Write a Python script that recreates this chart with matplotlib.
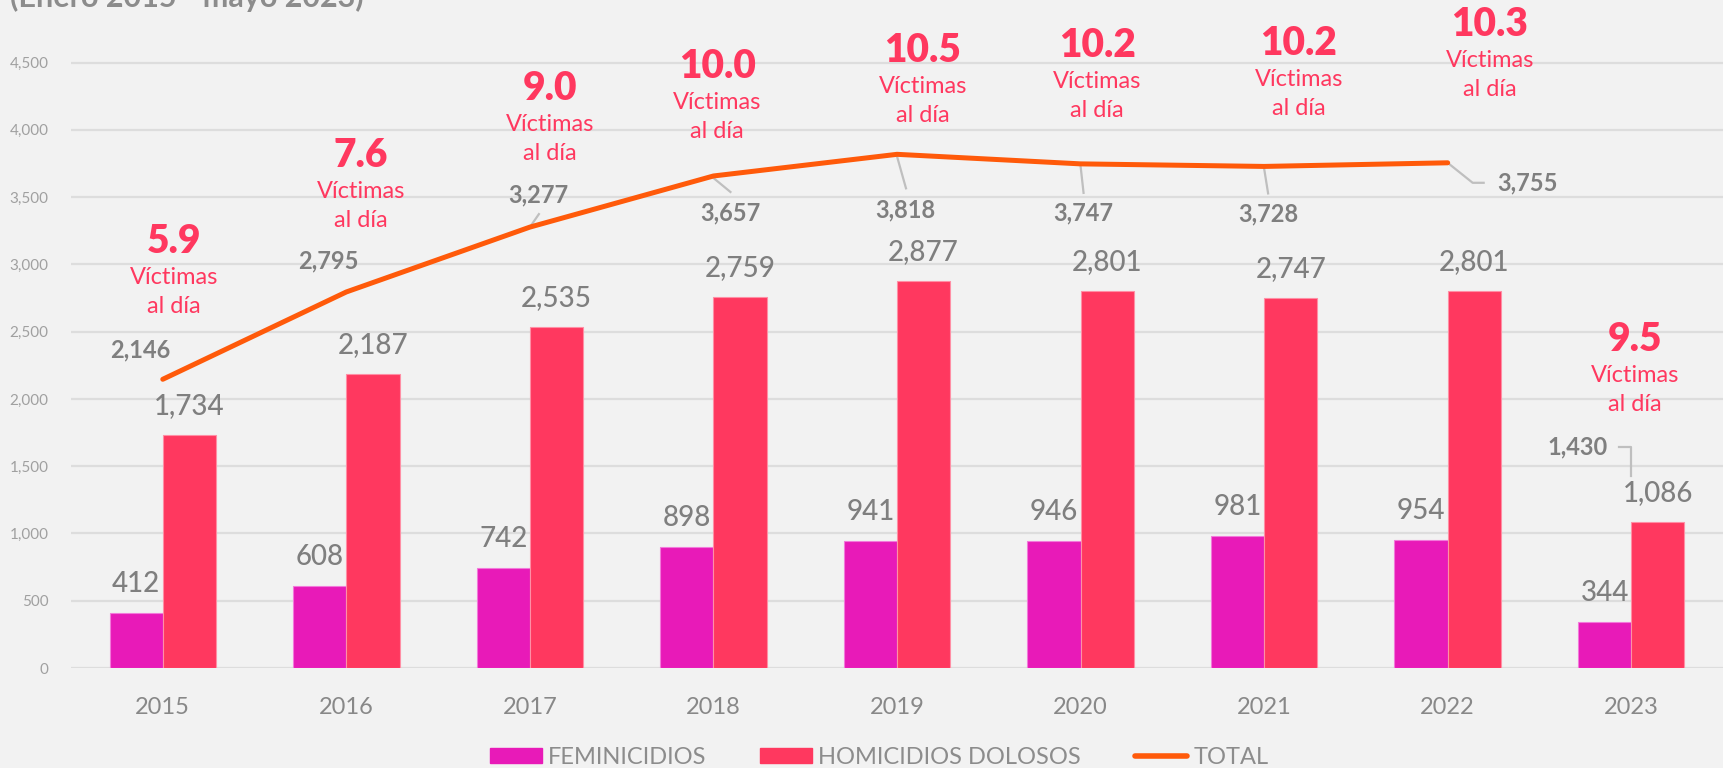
import matplotlib
matplotlib.use("Agg")
import matplotlib.pyplot as plt
from matplotlib.patches import Patch
from matplotlib.lines import Line2D
import numpy as np

plt.rcParams["font.family"] = ["Lato", "DejaVu Sans"]

# datos
years = ["2015", "2016", "2017", "2018", "2019", "2020", "2021", "2022", "2023"]
feminicidios = [412, 608, 742, 898, 941, 946, 981, 954, 344]
homicidios = [1734, 2187, 2535, 2759, 2877, 2801, 2747, 2801, 1086]
total = [2146, 2795, 3277, 3657, 3818, 3747, 3728, 3755, 1430]
victimas_dia = ["5.9", "7.6", "9.0", "10.0", "10.5", "10.2", "10.2", "10.3", "9.5"]

# colores
c_fem = "#E81AB8"
c_hom = "#FF385F"
c_tot = "#FF5A0A"
c_gray = "#7F7F7F"
c_bg = "#F2F2F2"

# posicion de las anotaciones (desplazamiento en categorias, altura en datos)
rate_dx = [0.06, 0.08, 0.11, 0.02, 0.14, 0.09, 0.19, 0.23, 0.02]
rate_y = [3085, 3724, 4222, 4386, 4505, 4542, 4557, 4698, 2356]
# etiquetas del total: desplazamiento en pixeles (dx, dy hacia abajo)
tot_off = [(-23, -22), (-18, -24), (8, -25), (17, 44), (8, 63),
           (3, 57), (4, 55), (80, 28), (-54, -21)]
tot_leader = [None, None,
              [(0, 0), (9, -13)],
              [(0, 2), (17, 16)],
              [(0, 2), (9, 34)],
              [(0, 2), (3, 29)],
              [(0, 2), (4, 27)],
              [(0, 0), (25, 20), (36, 20)],
              [(-12, -29), (0, -29), (0, 0)]]

fig = plt.figure(figsize=(17.23, 7.68), dpi=100, facecolor=c_bg)
ax = fig.add_axes([71 / 1723, 100 / 768, 1 - 71 / 1723, 668 / 768])
ax.set_facecolor(c_bg)

x = np.arange(len(years))
w = 0.29
ax.bar(x - w / 2, feminicidios, w, color=c_fem, edgecolor="#F27ADB", linewidth=0.8, zorder=2)
ax.bar(x + w / 2, homicidios, w, color=c_hom, edgecolor="#FF8FA5", linewidth=0.8, zorder=2)
ax.plot(x[:8], total[:8], color=c_tot, lw=3.6, solid_capstyle="round", zorder=3)

ax.set_xlim(-0.5, 8.5)
ax.set_ylim(0, 4965)
ax.set_yticks(range(0, 5000, 500))
ax.set_yticklabels([f"{v:,}" for v in range(0, 5000, 500)], fontsize=11, color="#A0A0A0")
ax.set_xticks(x)
ax.set_xticklabels(years, fontsize=17, color="#888888")
ax.tick_params(axis="both", length=0)
ax.tick_params(axis="y", pad=16)
ax.tick_params(axis="x", pad=21)
ax.yaxis.grid(True, color="#DDDDDD", lw=1.6)
ax.set_axisbelow(True)
for s in ax.spines.values():
    s.set_visible(False)

# etiquetas de barras
for i in range(len(years)):
    ax.annotate(f"{feminicidios[i]:,}", (x[i] - w / 2, feminicidios[i]), xytext=(0, 21),
                textcoords="offset pixels", ha="center", va="baseline", fontsize=20,
                fontweight="medium", color=c_gray)
    ax.annotate(f"{homicidios[i]:,}", (x[i] + w / 2, homicidios[i]), xytext=(0, 21),
                textcoords="offset pixels", ha="center", va="baseline", fontsize=20,
                fontweight="medium", color=c_gray)

# etiquetas del total con lineas guia
for i in range(len(years)):
    dx, dy = tot_off[i]
    ax.annotate(f"{total[i]:,}", (x[i], total[i]), xytext=(dx, -dy),
                textcoords="offset pixels", ha="center", va="baseline",
                fontsize=17, fontweight="bold", color=c_gray, zorder=4)
    if tot_leader[i] is not None:
        p = ax.transData.transform((x[i], total[i]))
        verts = np.array([(p[0] + ox, p[1] - oy) for ox, oy in tot_leader[i]])
        d = ax.transData.inverted().transform(verts)
        ax.plot(d[:, 0], d[:, 1], color="#BFBFBF", lw=1.6, zorder=2.5)

# victimas al dia
for i in range(len(years)):
    px = x[i] + rate_dx[i]
    ax.text(px, rate_y[i], victimas_dia[i], ha="center", va="baseline",
            fontsize=28, fontweight="heavy", color=c_hom)
    ax.annotate("Víctimas", (px, rate_y[i]), xytext=(0, -31), textcoords="offset pixels",
                ha="center", va="baseline", fontsize=17, color=c_hom)
    ax.annotate("al día", (px, rate_y[i]), xytext=(0, -60), textcoords="offset pixels",
                ha="center", va="baseline", fontsize=17, color=c_hom)

fig.text(10 / 1723, 1 - 7 / 768, "(Enero 2015 - mayo 2023)", ha="left", va="baseline",
         fontsize=22, fontweight="bold", color="#8C8C8C")

handles = [Patch(color=c_fem, label="FEMINICIDIOS"),
           Patch(color=c_hom, label="HOMICIDIOS DOLOSOS"),
           Line2D([0], [0], color=c_tot, lw=4, solid_capstyle="round", label="TOTAL")]
leg = fig.legend(handles=handles, loc="center", bbox_to_anchor=(879 / 1723, 11 / 768), ncol=3,
                 frameon=False, fontsize=17, handlelength=2.2, handleheight=0.6,
                 handletextpad=0.25, columnspacing=2.3, borderpad=0)
for t in leg.get_texts():
    t.set_color("#8C8C8C")

fig.savefig("out.png", dpi=100, facecolor=c_bg)
